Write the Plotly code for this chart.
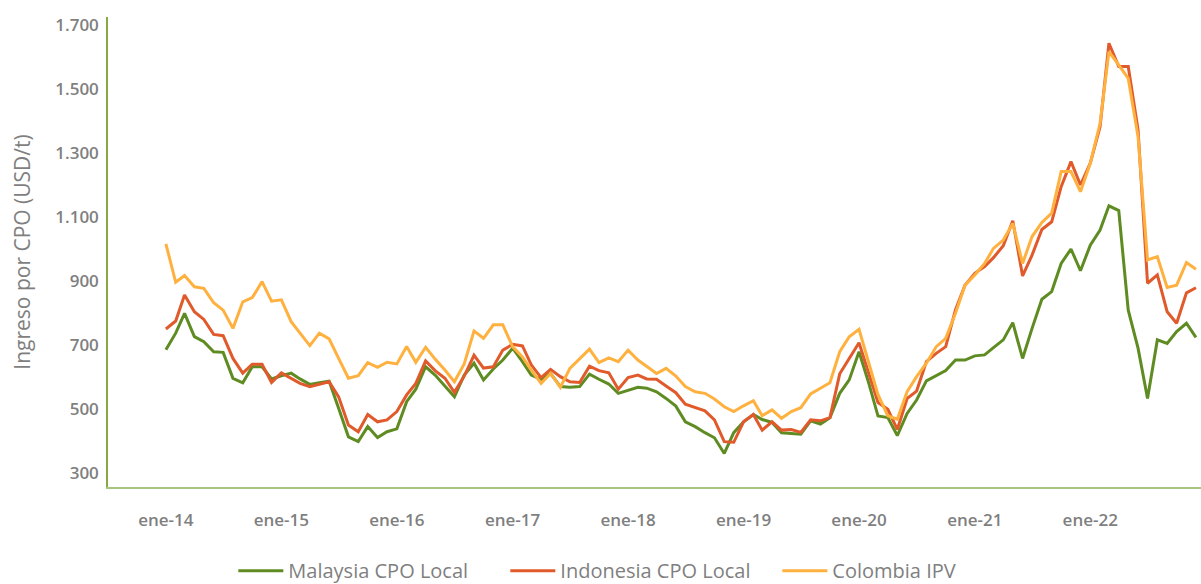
import pandas as pd
import plotly.graph_objects as go

months = pd.date_range("2014-01-01", "2022-12-01", freq="MS")

malaysia = [685, 737, 799, 726, 710, 679, 677, 596, 582, 632, 632, 594,
            604, 612, 594, 577, 582, 587, 502, 413, 398, 445, 411, 429,
            438, 523, 562, 632, 606, 572, 538, 606, 643, 591, 625, 653,
            690, 648, 606, 593, 611, 570, 568, 570, 609, 593, 578, 549,
            559, 568, 565, 554, 533, 509, 460, 445, 426, 410, 361, 426,
            460, 483, 467, 458, 426, 424, 421, 463, 453, 473, 549, 591,
            679, 580, 478, 473, 417, 486, 528, 588, 603, 620, 653, 653,
            666, 669, 692, 716, 770, 658, 752, 843, 867, 955, 1000, 932,
            1012, 1059, 1135, 1120, 809, 690, 533, 716, 705, 742, 768, 724]

indonesia = [750, 775, 856, 804, 780, 733, 729, 658, 612, 640, 640, 583,
             613, 596, 580, 570, 578, 585, 538, 450, 429, 483, 460, 466,
             492, 544, 580, 650, 620, 596, 552, 603, 668, 628, 632, 684,
             702, 697, 638, 598, 624, 601, 585, 583, 634, 620, 613, 562,
             598, 606, 594, 593, 572, 551, 515, 504, 494, 466, 398, 396,
             460, 483, 434, 460, 434, 436, 427, 466, 463, 473, 610, 658,
             707, 610, 520, 499, 436, 533, 556, 648, 674, 695, 810, 887,
             924, 945, 973, 1010, 1088, 916, 981, 1061, 1085, 1195, 1273, 1200,
             1268, 1382, 1643, 1570, 1570, 1372, 893, 919, 804, 768, 863, 879]

colombia = [1016, 896, 917, 882, 877, 832, 809, 752, 835, 848, 898, 837,
            841, 773, 737, 698, 737, 719, 658, 596, 604, 645, 630, 646,
            641, 695, 646, 693, 656, 622, 585, 641, 744, 721, 763, 763,
            695, 663, 622, 580, 611, 568, 627, 656, 687, 645, 660, 648,
            684, 653, 632, 611, 627, 603, 570, 554, 549, 531, 507, 492,
            510, 526, 479, 497, 471, 492, 504, 547, 565, 582, 679, 726,
            749, 640, 545, 479, 468, 554, 601, 643, 695, 721, 799, 887,
            919, 955, 1002, 1028, 1080, 955, 1039, 1083, 1112, 1242, 1242, 1179,
            1268, 1393, 1617, 1575, 1533, 1351, 966, 976, 880, 887, 958, 937]

tick_dates = pd.date_range("2014-01-01", "2022-01-01", freq="YS")
tick_labels = ["ene-14", "ene-15", "ene-16", "ene-17", "ene-18",
               "ene-19", "ene-20", "ene-21", "ene-22"]
y_ticks = [300, 500, 700, 900, 1100, 1300, 1500, 1700]

series = [
    ("Malaysia CPO Local", malaysia, "#5f8c22"),
    ("Indonesia CPO Local", indonesia, "#e05a2b"),
    ("Colombia IPV", colombia, "#ffb13f"),
]

fig = go.Figure()
for name, vals, color in series:
    fig.add_trace(go.Scatter(x=months, y=vals, name=name, mode="lines",
                             line=dict(color=color, width=3)))

GRAY = "#7f7f7f"
FONT = "Open Sans"

fig.update_layout(
    width=1201, height=584,
    margin=dict(l=108, r=0, t=17, b=97, autoexpand=False),
    paper_bgcolor="white", plot_bgcolor="white",
    separators=",.",
    font=dict(family=FONT, color=GRAY, size=17),
    showlegend=True,
    legend=dict(orientation="h", xref="container", yref="paper",
                x=0.534, xanchor="center", y=-0.178, yanchor="middle",
                font=dict(family=FONT, size=20, color=GRAY),
                itemwidth=45, entrywidth=212, tracegroupgap=0),
    xaxis=dict(
        range=["2013-07-02", "2022-12-17"],
        tickvals=tick_dates, ticktext=tick_labels,
        showgrid=False, zeroline=False,
        showline=True, linecolor="#a9c47f", linewidth=2,
        ticks="", ticklabelstandoff=17,
        tickfont=dict(family=FONT, size=17, color=GRAY, weight=600),
    ),
    yaxis=dict(
        range=[256.25, 1725],
        tickvals=y_ticks, tickformat=",d",
        showgrid=False, zeroline=False,
        showline=True, linecolor="#86a845", linewidth=1.5,
        ticks="", ticklabelstandoff=4,
        tickfont=dict(family=FONT, size=17, color=GRAY, weight=600),
        title=dict(text="Ingreso por CPO (USD/t)", standoff=19,
                   font=dict(family=FONT, size=21, color=GRAY)),
    ),
)

fig.write_html("out.html")
